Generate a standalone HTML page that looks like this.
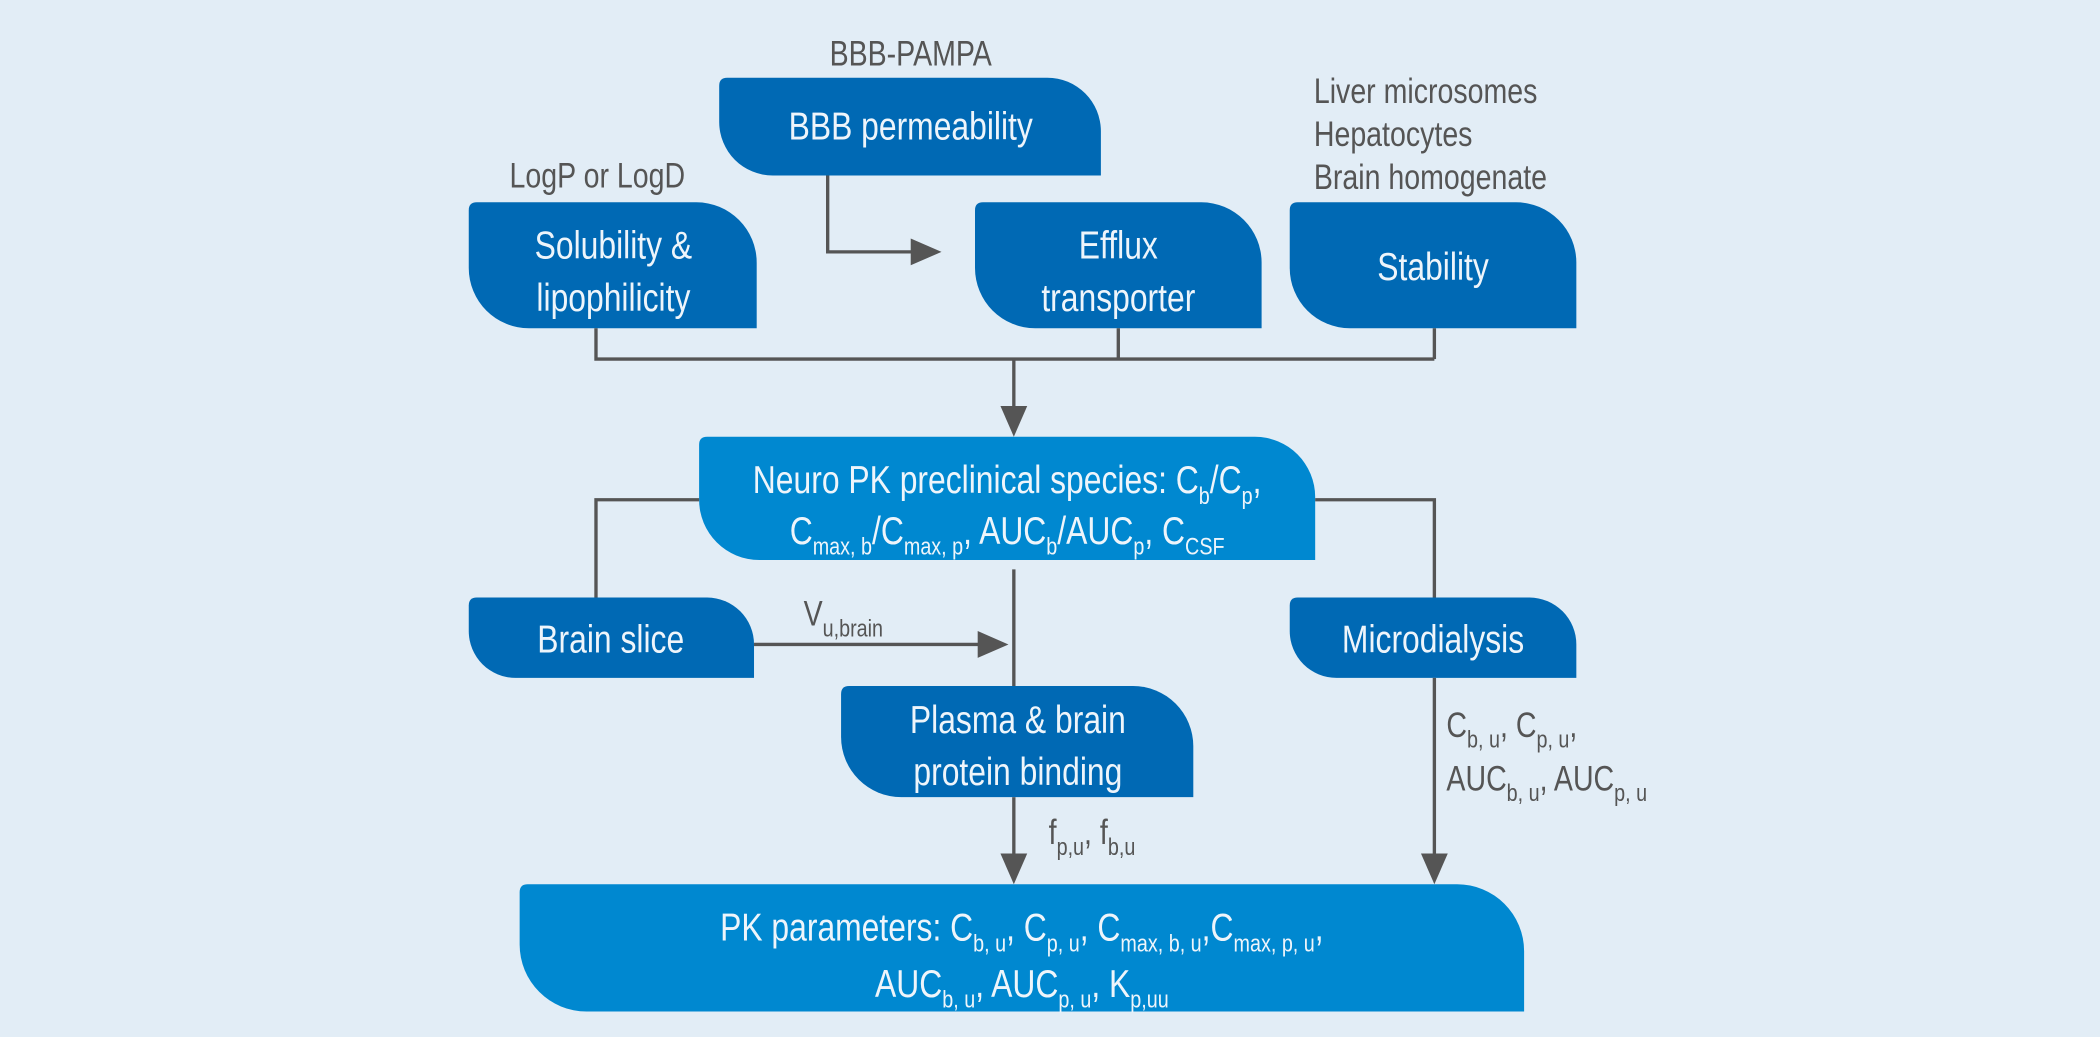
<!DOCTYPE html>
<html><head><meta charset="utf-8"><style>
html,body{margin:0;padding:0;background:#e2edf6;}
svg{display:block}
text{font-family:"Liberation Sans",sans-serif;}
.w{fill:#eef5fb;font-size:29px;text-anchor:middle}
.g{fill:#555;font-size:26px}
.s{font-size:18px}
</style></head><body>
<svg width="2100" height="1037" viewBox="0 0 1568 774" preserveAspectRatio="none" xmlns="http://www.w3.org/2000/svg">
<rect width="1568" height="774" fill="#e2edf6"/>
<g fill="#0069b4">
<path d="M543,58 H782 A40 40 0 0 1 822,98 V131 H577 A40 40 0 0 1 537,91 V64 Q537,58 543,58Z"/>
<path d="M356,151 H520 A45 45 0 0 1 565,196 V245 H395 A45 45 0 0 1 350,200 V157 Q350,151 356,151Z"/>
<path d="M734,151 H897 A45 45 0 0 1 942,196 V245 H773 A45 45 0 0 1 728,200 V157 Q728,151 734,151Z"/>
<path d="M969,151 H1132 A45 45 0 0 1 1177,196 V245 H1008 A45 45 0 0 1 963,200 V157 Q963,151 969,151Z"/>
<path d="M356,446 H528 A35 35 0 0 1 563,481 V506 H385 A35 35 0 0 1 350,471 V452 Q350,446 356,446Z"/>
<path d="M969,446 H1142 A35 35 0 0 1 1177,481 V506 H998 A35 35 0 0 1 963,471 V452 Q963,446 969,446Z"/>
<path d="M634,512 H846 A45 45 0 0 1 891,557 V595 H673 A45 45 0 0 1 628,550 V518 Q628,512 634,512Z"/>
</g>
<g fill="#0088d0">
<path d="M528,326 H937 A45 45 0 0 1 982,371 V418 H567 A45 45 0 0 1 522,373 V332 Q522,326 528,326Z"/>
<path d="M394,660 H1088 A50 50 0 0 1 1138,710 V755 H438 A50 50 0 0 1 388,705 V666 Q388,660 394,660Z"/>
</g>
<g stroke="#555" stroke-width="2.5" fill="none">
<polyline points="618,131 618,188 682,188"/>
<polyline points="445,245 445,268 1071,268"/>
<line x1="835" y1="245" x2="835" y2="268"/>
<line x1="1071" y1="245" x2="1071" y2="268"/>
<line x1="757" y1="268" x2="757" y2="306"/>
<polyline points="522,373 445,373 445,446"/>
<polyline points="982,373 1071,373 1071,446"/>
<line x1="1071" y1="506" x2="1071" y2="640"/>
<line x1="563" y1="481" x2="733" y2="481"/>
<line x1="757" y1="425" x2="757" y2="512"/>
<line x1="757" y1="595" x2="757" y2="640"/>
</g>
<g fill="#555">
<polygon points="703,188 680,178 680,198"/>
<polygon points="757,326 747,303 767,303"/>
<polygon points="753,481 730,471 730,491"/>
<polygon points="757,660 747,637 767,637"/>
<polygon points="1071,660 1061,637 1081,637"/>
</g>
<g transform="translate(680,49) scale(0.82,1)"><text class="g" text-anchor="middle">BBB-PAMPA</text></g>
<g transform="translate(446,140) scale(0.82,1)"><text class="g" text-anchor="middle">LogP or LogD</text></g>
<g transform="translate(981,77) scale(0.82,1)"><text class="g">Liver microsomes</text></g>
<g transform="translate(981,109) scale(0.82,1)"><text class="g">Hepatocytes</text></g>
<g transform="translate(981,141) scale(0.82,1)"><text class="g">Brain homogenate</text></g>
<g transform="translate(600,467) scale(0.82,1)"><text class="g">V<tspan class="s" dy="8">u,brain</tspan></text></g>
<g transform="translate(783,630) scale(0.82,1)"><text class="g">f<tspan class="s" dy="8">p,u</tspan><tspan dy="-8">, f</tspan><tspan class="s" dy="8">b,u</tspan></text></g>
<g transform="translate(1080,550) scale(0.82,1)"><text class="g">C<tspan class="s" dy="8">b, u</tspan><tspan dy="-8">, C</tspan><tspan class="s" dy="8">p, u</tspan><tspan dy="-8">,</tspan></text></g>
<g transform="translate(1080,590) scale(0.82,1)"><text class="g">AUC<tspan class="s" dy="8">b, u</tspan><tspan dy="-8">, AUC</tspan><tspan class="s" dy="8">p, u</tspan></text></g>
<g transform="translate(680,104) scale(0.82,1)"><text class="w">BBB permeability</text></g>
<g transform="translate(458,193) scale(0.82,1)"><text class="w">Solubility &amp;</text></g>
<g transform="translate(458,232) scale(0.82,1)"><text class="w">lipophilicity</text></g>
<g transform="translate(835,193) scale(0.82,1)"><text class="w">Efflux</text></g>
<g transform="translate(835,232) scale(0.82,1)"><text class="w">transporter</text></g>
<g transform="translate(1070,209) scale(0.82,1)"><text class="w">Stability</text></g>
<g transform="translate(456,487) scale(0.82,1)"><text class="w">Brain slice</text></g>
<g transform="translate(1070,487) scale(0.82,1)"><text class="w">Microdialysis</text></g>
<g transform="translate(760,547) scale(0.82,1)"><text class="w">Plasma &amp; brain</text></g>
<g transform="translate(760,586) scale(0.82,1)"><text class="w">protein binding</text></g>
<g transform="translate(752,368) scale(0.82,1)"><text class="w">Neuro PK preclinical species: C<tspan class="s" dy="8">b</tspan><tspan dy="-8">/C</tspan><tspan class="s" dy="8">p</tspan><tspan dy="-8">,</tspan></text></g>
<g transform="translate(752,406) scale(0.82,1)"><text class="w">C<tspan class="s" dy="8">max, b</tspan><tspan dy="-8">/C</tspan><tspan class="s" dy="8">max, p</tspan><tspan dy="-8">, AUC</tspan><tspan class="s" dy="8">b</tspan><tspan dy="-8">/AUC</tspan><tspan class="s" dy="8">p</tspan><tspan dy="-8">, C</tspan><tspan class="s" dy="8">CSF</tspan></text></g>
<g transform="translate(763,702) scale(0.82,1)"><text class="w">PK parameters: C<tspan class="s" dy="8">b, u</tspan><tspan dy="-8">, C</tspan><tspan class="s" dy="8">p, u</tspan><tspan dy="-8">, C</tspan><tspan class="s" dy="8">max, b, u</tspan><tspan dy="-8">,C</tspan><tspan class="s" dy="8">max, p, u</tspan><tspan dy="-8">,</tspan></text></g>
<g transform="translate(763,744) scale(0.82,1)"><text class="w">AUC<tspan class="s" dy="8">b, u</tspan><tspan dy="-8">, AUC</tspan><tspan class="s" dy="8">p, u</tspan><tspan dy="-8">, K</tspan><tspan class="s" dy="8">p,uu</tspan></text></g>
</svg>
</body></html>
